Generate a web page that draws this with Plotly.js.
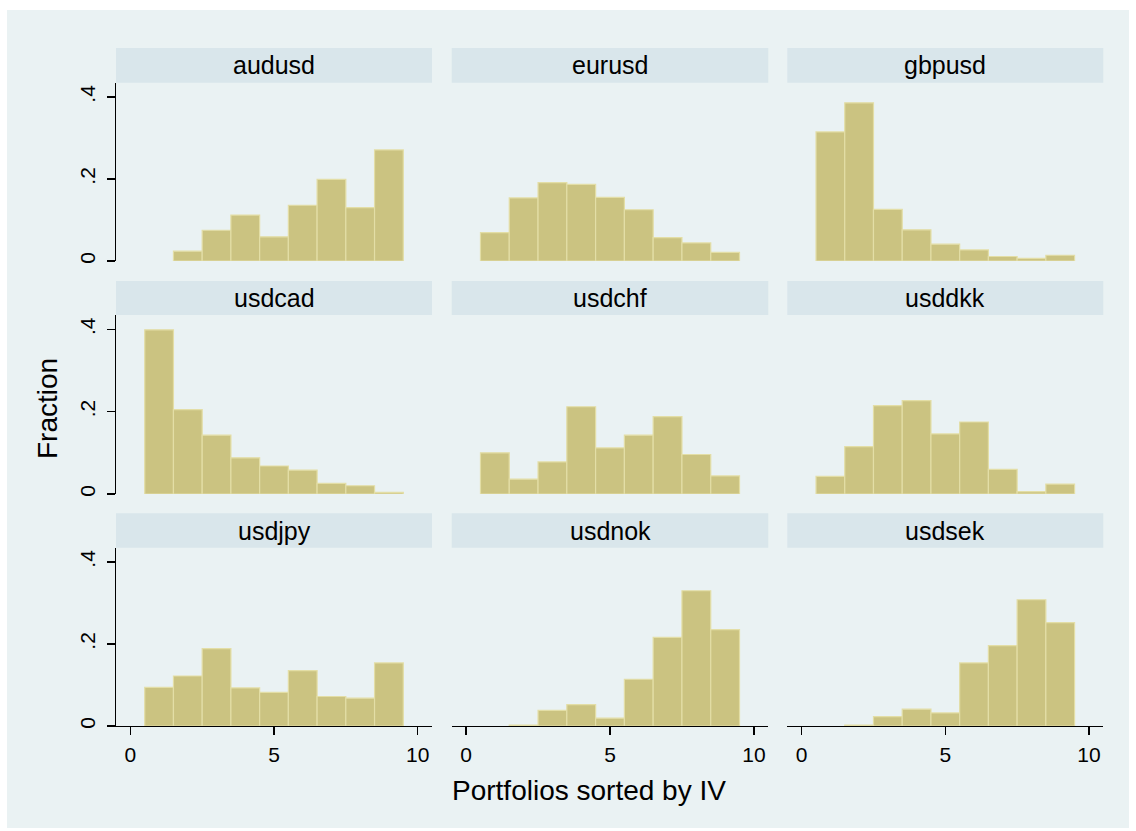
<!DOCTYPE html>
<html>
<head>
<meta charset="utf-8">
<script src="https://cdn.plot.ly/plotly-3.0.1.min.js"></script>
<style>html,body{margin:0;padding:0;background:#fff;}#chart{width:1136px;height:831px;}</style>
</head>
<body>
<div id="chart"></div>
<script>
// Portfolio bins (x positions of histogram bars)
const portfolios = [1, 2, 3, 4, 5, 6, 7, 8, 9];
const panelNames = ["audusd", "eurusd", "gbpusd", "usdcad", "usdchf", "usdddkk", "usdjpy", "usdnok", "usdsek"];
const panelTitles = ["audusd", "eurusd", "gbpusd", "usdcad", "usdchf", "usddkk", "usdjpy", "usdnok", "usdsek"];

// Fractions
const audusd = [null, 0.024, 0.075, 0.112, 0.059, 0.136, 0.199, 0.130, 0.271];
const eurusd = [0.069, 0.154, 0.191, 0.187, 0.155, 0.125, 0.057, 0.044, 0.021];
const gbpusd = [0.315, 0.386, 0.126, 0.076, 0.041, 0.027, 0.011, 0.0065, 0.014];
const usdcad = [0.399, 0.205, 0.143, 0.088, 0.068, 0.058, 0.026, 0.020, 0.004];
const usdchf = [0.100, 0.036, 0.078, 0.212, 0.112, 0.143, 0.188, 0.096, 0.044];
const usddkk = [0.043, 0.115, 0.215, 0.227, 0.146, 0.175, 0.060, 0.006, 0.024];
const usdjpy = [0.094, 0.122, 0.189, 0.093, 0.082, 0.135, 0.072, 0.068, 0.154];
const usdnok = [null, 0.002, 0.038, 0.052, 0.019, 0.114, 0.216, 0.330, 0.235];
const usdsek = [null, 0.002, 0.023, 0.041, 0.032, 0.154, 0.196, 0.308, 0.252];

const seriesList = [audusd, eurusd, gbpusd, usdcad, usdchf, usddkk, usdjpy, usdnok, usdsek];

const yTickVals = [0, 0.2, 0.4];
const yTickText = ["0", ".2", ".4"];
const xTickVals = [0, 5, 10];
const xTickText = ["0", "5", "10"];

const W = 1136, H = 831;
const colPx = [[116, 432], [451.7, 768.3], [787.3, 1103.3]];
const rowPx = [[82.7, 261], [315, 494], [547.7, 726]];   // plot area top, bottom
const headPx = [[48, 82.7], [281, 315], [513.3, 547.7]]; // strip top, bottom
const px2x = p => p / W;
const px2y = p => 1 - p / H;

const FONT = "Liberation Sans, Arial, Helvetica, sans-serif";
const BAR_FILL = "#cbc381";
const BAR_LINE = "#e3dea6";
const BG = "#eaf2f3";
const STRIP = "#d9e6eb";
const GRID = "#eaf2f3";

const traces = [];
const layout = {
  width: W, height: H,
  margin: {l: 0, r: 0, t: 0, b: 0},
  paper_bgcolor: "#ffffff",
  plot_bgcolor: "#ffffff",
  showlegend: false,
  bargap: 0,
  font: {family: FONT, color: "#000", size: 21},
  shapes: [],
  annotations: []
};

// outer light background
layout.shapes.push({type: "rect", xref: "paper", yref: "paper", layer: "below",
  x0: px2x(7), x1: px2x(1129), y0: px2y(828), y1: px2y(10),
  fillcolor: BG, line: {width: 0}});

for (let i = 0; i < 9; i++) {
  const r = Math.floor(i / 3), c = i % 3;
  const sfx = i === 0 ? "" : String(i + 1);
  traces.push({
    type: "bar", name: panelNames[i],
    x: portfolios, y: seriesList[i],
    width: 1,
    xaxis: "x" + sfx, yaxis: "y" + sfx,
    marker: {color: BAR_FILL, line: {color: BAR_LINE, width: 1.2}},
    hoverinfo: "x+y"
  });
  const bottomRow = r === 2, leftCol = c === 0;
  layout["xaxis" + sfx] = {
    domain: [px2x(colPx[c][0]), px2x(colPx[c][1])],
    anchor: "y" + sfx,
    range: [-0.5, 10.5],
    tickmode: "array", tickvals: xTickVals, ticktext: xTickText,
    showticklabels: bottomRow,
    ticks: bottomRow ? "outside" : "",
    ticklen: 8, tickwidth: 1.2, tickcolor: "#000",
    ticklabelstandoff: 2,
    showline: bottomRow, linecolor: "#000", linewidth: 1.2,
    showgrid: false, zeroline: false,
    tickfont: {family: FONT, size: 21, color: "#000"},
    fixedrange: true
  };
  layout["yaxis" + sfx] = {
    domain: [px2y(rowPx[r][1]), px2y(rowPx[r][0])],
    anchor: "x" + sfx,
    range: [0, 0.435],
    tickmode: "array", tickvals: yTickVals, ticktext: yTickText,
    showticklabels: leftCol,
    ticks: leftCol ? "outside" : "",
    ticklen: 8, tickwidth: 1.2, tickcolor: "#000",
    ticklabelstandoff: 3,
    tickangle: -90,
    showline: leftCol, linecolor: "#000", linewidth: 1.2,
    showgrid: true, gridcolor: GRID, gridwidth: 1.6,
    zeroline: false,
    tickfont: {family: FONT, size: 21, color: "#000"},
    fixedrange: true
  };
  // header strip
  layout.shapes.push({type: "rect", xref: "paper", yref: "paper", layer: "below",
    x0: px2x(colPx[c][0]), x1: px2x(colPx[c][1]),
    y0: px2y(headPx[r][1]), y1: px2y(headPx[r][0]),
    fillcolor: STRIP, line: {width: 0}});
  layout.annotations.push({xref: "paper", yref: "paper",
    x: px2x((colPx[c][0] + colPx[c][1]) / 2), y: px2y((headPx[r][0] + headPx[r][1]) / 2),
    xanchor: "center", yanchor: "middle", showarrow: false,
    text: panelTitles[i], font: {family: FONT, size: 25, color: "#000"}});
}

// axis titles
layout.annotations.push({xref: "paper", yref: "paper", x: px2x(589), y: px2y(790),
  xanchor: "center", yanchor: "middle", showarrow: false,
  text: "Portfolios sorted by IV", font: {family: FONT, size: 28, color: "#000"}});
layout.annotations.push({xref: "paper", yref: "paper", x: px2x(48), y: px2y(409),
  xanchor: "center", yanchor: "middle", showarrow: false, textangle: -90,
  text: "Fraction", font: {family: FONT, size: 28, color: "#000"}});

Plotly.newPlot("chart", traces, layout, {displayModeBar: false, staticPlot: true});
</script>
</body>
</html>
